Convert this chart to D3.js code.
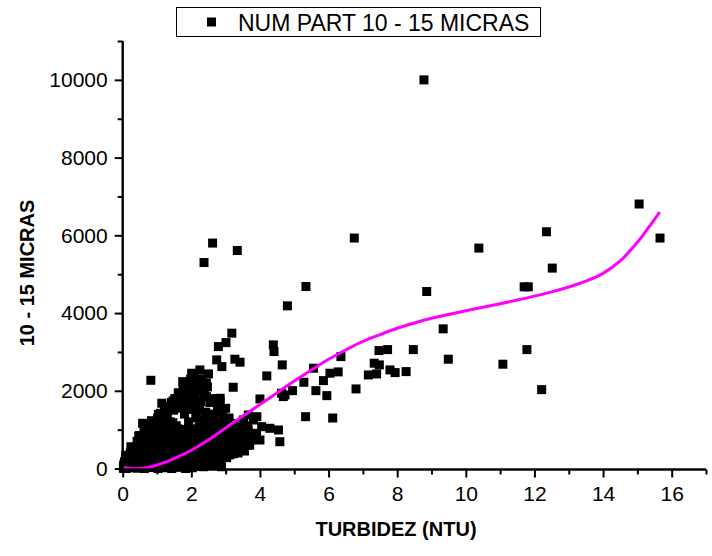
<!DOCTYPE html>
<html><head><meta charset="utf-8">
<script src="https://cdn.jsdelivr.net/npm/d3@7"></script>
<style>body{margin:0;background:#fff}svg{display:block}</style>
</head><body>
<svg id="c" width="712" height="556"></svg>
<script>
// Scatter data: TURBIDEZ (NTU) vs NUM PART 10 - 15 MICRAS
const turbidez = [
0.02,0.05,0.08,0.12,0.15,0.18,0.03,0.1,0.2,
0.22,0.25,0.28,0.3,0.33,0.36,0.38,0.4,
0.42,0.44,0.46,0.48,0.5,0.52,0.55,0.58,0.57,0.6,
0.62,0.64,0.66,0.68,0.7,0.72,0.75,0.77,0.79,0.8,
0.82,0.83,0.85,0.86,0.88,0.9,0.92,0.94,0.95,0.97,0.99,1.0,
1.02,1.04,1.06,1.08,1.1,1.12,1.14,1.15,1.17,1.19,1.2,
1.22,1.24,1.26,1.28,1.3,1.32,1.34,1.36,1.38,1.4,
1.42,1.44,1.46,1.48,1.5,1.52,1.54,1.56,1.58,1.6,
1.62,1.64,1.66,1.68,1.7,1.72,1.74,1.76,1.78,1.8,1.75,
1.82,1.84,1.86,1.88,1.9,1.92,1.94,1.96,1.98,2.0,2.01,
2.03,2.05,2.07,2.09,2.11,2.13,2.15,2.17,2.19,2.2,2.21,
2.25,2.24,2.27,2.29,2.31,2.33,2.35,2.36,2.38,2.4,2.37,
2.42,2.44,2.46,2.48,2.5,2.52,2.54,2.56,2.58,2.6,
2.62,2.62,2.64,2.66,2.68,2.7,2.72,2.74,2.76,2.78,2.79,2.8,
2.84,2.84,2.86,2.88,2.89,2.9,2.92,2.94,2.96,2.98,3.0,3.01,
3.04,3.06,3.08,3.1,3.12,3.14,3.16,3.18,3.2,3.22,
3.24,3.26,3.27,3.3,3.32,3.34,3.36,3.38,3.42,3.42,
3.45,3.47,3.5,3.52,3.55,3.6,3.66,3.66,3.7,3.76,3.81,
3.9,3.91,4.0,4.0,4.05,4.2,4.29,4.39,4.41,4.54,4.58,4.63,4.65,4.68,4.73,4.8,
4.95,5.28,5.33,5.34,5.56,5.63,5.85,5.95,6.04,6.12,6.28,6.36,6.75,6.8,
7.16,7.33,7.4,7.47,7.48,7.72,7.79,7.94,8.26,8.47,8.78,8.86,9.34,9.49,
10.38,11.08,11.7,11.82,11.78,12.21,12.35,12.52,15.05,15.66
];
const micras = [
20,150,280,60,210,330,90,0,120,
400,30,250,520,150,380,60,290,
700,180,450,850,20,600,300,1164,750,100,
950,400,1100,200,650,850,30,500,1050,300,
2270,700,1200,150,950,450,1100,1164,40,800,600,250,
1300,1000,100,700,1420,450,1680,900,250,1200,600,
1550,50,1050,350,1400,800,1600,550,1200,150,
1700,950,400,1500,700,1800,200,1100,1600,500,
1950,850,250,1550,1000,1800,600,2050,80,1400,2236,
1700,900,2150,350,1900,1200,650,46,2300,1000,2452,
1600,200,2350,750,1850,1300,450,2100,950,2194,1550,
2537,600,1750,150,2300,1100,46,800,1950,400,5300,
1450,2200,700,1000,2434,250,1700,500,1250,900,
5801,1800,90,1400,600,1100,300,2795,1600,800,3137,450,
1808,1720,1000,46,2623,650,1400,300,1200,800,1550,3240,
450,1000,700,1300,350,900,600,3483,1150,2091,
500,800,2813,1050,650,5610,400,900,2736,561,
1000,819,700,1249,450,950,1378,992,600,734,1249,
906,1334,1790,734,1077,2383,1035,3181,3009,992,690,1937,2666,1850,1893,4186,
2004,2220,1334,4683,2581,2004,2262,1875,2452,1300,2486,2880,5930,2048,
2408,2710,2434,3035,2666,3060,2537,2468,2494,3060,10000,4555,3594,2813,
5672,2684,4675,4675,3060,2030,6092,5157,6806,5930
];
// Additional points of the dense cluster near the origin
const clusterX = [
0.03,0.06,0.09,0.04,0.12,0.15,
0.22,0.25,0.28,0.24,0.3,0.2,
0.42,0.45,0.48,0.44,0.47,0.43,0.5,
0.63,0.66,0.64,0.67,0.62,0.65,0.68,
0.83,0.86,0.84,0.87,0.85,0.88,0.84,
1.03,1.06,1.04,1.07,1.05,1.02,1.06,1.04,
1.23,1.26,1.24,1.27,1.25,1.22,1.26,1.24,1.27,
1.43,1.46,1.44,1.47,1.45,1.42,1.46,1.44,1.47,
1.63,1.66,1.64,1.67,1.65,1.62,1.66,1.64,
1.83,1.86,1.84,1.87,1.85,1.82,1.86,1.84,1.87,
2.03,2.06,2.04,2.07,2.05,2.02,2.06,2.04,2.07,2.05,
2.23,2.26,2.24,2.27,2.25,2.22,2.26,2.24,2.27,2.25,2.23,
2.43,2.46,2.44,2.47,2.45,2.42,2.46,2.44,2.47,
2.63,2.66,2.64,2.67,2.65,2.62,2.66,2.64,
2.83,2.86,2.84,2.87,2.85,2.82,2.86,
3.03,3.06,3.04,3.07,3.05,3.02,
3.23,3.26,3.24,3.27,3.25,
3.43,3.46,3.44,3.47,
3.63,3.66,3.64
];
const clusterY = [
0,180,340,90,260,40,
20,200,400,560,120,300,
10,220,420,620,820,330,150,
0,210,400,610,800,1000,1100,
30,230,430,640,830,1030,1230,
0,200,410,600,810,990,1200,1390,
20,220,420,610,820,1010,1210,1420,1600,
0,200,400,600,800,990,1180,1550,1740,
30,230,430,630,830,1020,1600,1900,
0,210,410,610,800,1000,1560,1780,2000,
20,220,420,620,820,1020,1520,1720,1980,2200,
60,260,460,650,850,1050,1260,1500,1720,2000,2300,
80,280,480,680,880,1080,1280,1850,2100,
120,320,520,720,920,1120,1320,1760,
180,380,580,780,980,1180,1500,
280,480,680,880,1080,1280,
380,580,780,980,1150,
480,680,880,1050,
600,800,1100
];
// Fitted curve (magenta)
const fitX = [0,0.4,0.8,1.2,1.6,2.0,2.4,2.8,3.2,3.6,4.0,4.5,5.0,5.5,6.0,6.5,7.0,7.5,8.0,8.5,9.0,9.5,10.0,10.5,11.0,11.5,12.0,12.5,13.0,13.5,14.0,14.5,15.0,15.3,15.65];
const fitY = [30,-5,40,150,300,470,680,920,1170,1410,1650,1950,2250,2535,2810,3050,3270,3445,3610,3745,3865,3965,4060,4150,4240,4335,4435,4545,4670,4820,5020,5340,5820,6170,6600];
const xTicks = [0,2,4,6,8,10,12,14,16];
const yTicks = [0,2000,4000,6000,8000,10000];
const legendLabel = "NUM PART 10 - 15 MICRAS";
const xTitle = "TURBIDEZ (NTU)";
const yTitle = "10 - 15 MICRAS";

const svg = d3.select("#c");
const x = d3.scaleLinear().domain([0,17]).range([122.7,706]);
const y = d3.scaleLinear().domain([-25,11000]).range([469.5,41]);
const font = "Arial, 'Liberation Sans', sans-serif";

const pts = turbidez.map((t,i)=>[t,micras[i]]).concat(clusterX.map((t,i)=>[t,clusterY[i]]));
const S = 9;
svg.append("g").selectAll("rect").data(pts).join("rect")
  .attr("x",d=>x(d[0])-S/2).attr("y",d=>y(d[1])-S/2)
  .attr("width",S).attr("height",S).attr("fill","#000");

const line = d3.line().x(d=>x(d[0])).y(d=>y(d[1])).curve(d3.curveCatmullRom.alpha(0.5));
svg.append("path").datum(fitX.map((v,i)=>[v,fitY[i]]))
  .attr("d",line).attr("fill","none").attr("stroke","#ff00ff").attr("stroke-width",3);

// X axis
const gx = svg.append("g").attr("transform",`translate(0,${y.range()[0]})`);
gx.call(d3.axisBottom(x).tickValues(d3.range(0,18,1)).tickSize(5).tickFormat(""));
gx.call(g=>g.selectAll(".tick line").attr("stroke-width",2).attr("y2",d=>d%2===0?8:5));
gx.select(".domain").attr("stroke-width",2.4).attr("d",`M${x(0)},0H${x(17)}`);
const gx2 = svg.append("g").attr("transform",`translate(0,${y.range()[0]})`);
gx2.call(d3.axisBottom(x).tickValues(xTicks).tickSize(8).tickPadding(9).tickFormat(d3.format("d")));
gx2.select(".domain").remove();
gx2.selectAll(".tick line").remove();
gx2.selectAll("text").attr("font-size",21).attr("font-family",font).attr("fill","#000");

// Y axis
const gy = svg.append("g").attr("transform",`translate(${x(0)},0)`);
gy.call(d3.axisLeft(y).tickValues(d3.range(0,11001,1000)).tickSize(5).tickFormat(""));
gy.call(g=>g.selectAll(".tick line").attr("stroke-width",2).attr("x2",d=>d%2000===0?-8:-5));
gy.select(".domain").attr("stroke-width",2.4).attr("d",`M0,${y.range()[0]}V${y(11000)}`);
const gy2 = svg.append("g").attr("transform",`translate(${x(0)},0)`);
gy2.call(d3.axisLeft(y).tickValues(yTicks).tickSize(8).tickPadding(7).tickFormat(d3.format("d")));
gy2.select(".domain").remove();
gy2.selectAll(".tick line").remove();
gy2.selectAll("text").attr("font-size",21).attr("font-family",font).attr("fill","#000");

// Titles
svg.append("text").attr("x",396).attr("y",536).attr("text-anchor","middle")
  .attr("font-size",20).attr("font-weight","bold").attr("font-family",font).text(xTitle);
svg.append("text").attr("transform","translate(34,273) rotate(-90)").attr("text-anchor","middle")
  .attr("font-size",20).attr("font-weight","bold").attr("font-family",font).text(yTitle);

// Legend
svg.append("rect").attr("x",176.5).attr("y",7.5).attr("width",364).attr("height",29)
  .attr("fill","#fff").attr("stroke","#000").attr("stroke-width",1);
svg.append("rect").attr("x",207).attr("y",17.5).attr("width",9).attr("height",9).attr("fill","#000");
svg.append("text").attr("x",238).attr("y",30.5).attr("font-size",23).attr("font-family",font).text(legendLabel);
</script>
</body></html>
